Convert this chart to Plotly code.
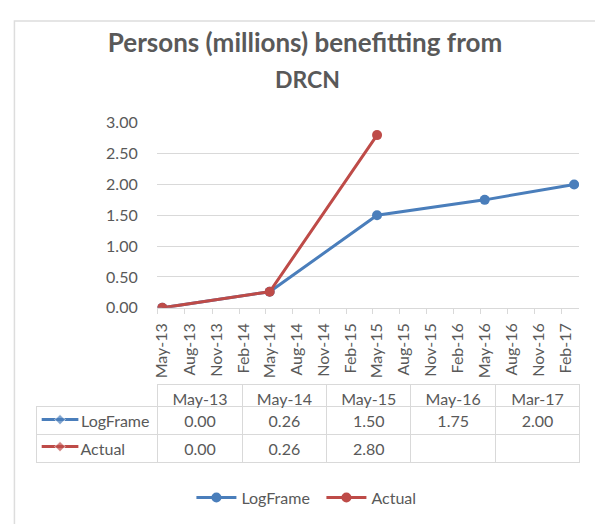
import plotly.graph_objects as go
import pandas as pd

W, H = 595, 524

# ---- data ----
dates = ["2013-05-01", "2014-05-01", "2015-05-01", "2016-05-01", "2017-03-01"]
logframe = [0.00, 0.26, 1.50, 1.75, 2.00]
actual = [0.00, 0.26, 2.80]
series_names = ["LogFrame", "Actual"]
series_colors = ["#4A7EBB", "#BE4B48"]
title_lines = ["Persons (millions) benefitting from", "DRCN"]
x_range = ["2013-04-12", "2017-03-18"]
first_tick = "2013-05-01"
last_tick = "2017-02-01"

FONT = "Lato"
GRAY = "#595959"
GRID = "#D9D9D9"
CLEAR = "rgba(0,0,0,0)"


def px(xp):
    return xp / W


def py(yp):
    return 1 - yp / H


fig = go.Figure()

series_values = [logframe, actual]
for name, vals, col in zip(series_names, series_values, series_colors):
    fig.add_trace(go.Scatter(
        x=dates[:len(vals)], y=vals, name=name, mode="lines+markers",
        line=dict(color=col, width=3),
        marker=dict(color=col, size=10),
        xaxis="x", yaxis="y",
    ))

# minor tick marks half a month before each labelled tick (category boundaries)
tick_dates = pd.date_range(first_tick, last_tick, freq="3MS")
minor_vals = [(d - pd.Timedelta(days=15)).strftime("%Y-%m-%d") for d in tick_dates]

# ---- data table ----
col_labels = [pd.Timestamp(d).strftime("%b-%y") for d in dates]
pad = "\u2003\u2003\u00a0\u00a0\u00a0"
row_heads = [pad + n for n in series_names]
cols = [row_heads]
for i in range(len(dates)):
    col = []
    for vals in series_values:
        col.append(f"{vals[i]:.2f}" if i < len(vals) else "")
    cols.append(col)

fig.add_trace(go.Table(
    domain=dict(x=[px(32), px(580)], y=[py(470), py(389)]),
    columnwidth=[122] + [85] * len(dates),
    header=dict(
        values=[""] + col_labels, height=22,
        fill_color=[CLEAR] + ["white"] * len(dates),
        line=dict(color=[CLEAR] + [GRID] * len(dates), width=1),
        font=dict(family=FONT, size=16, color=GRAY),
        align="center",
    ),
    cells=dict(
        values=cols, height=28,
        fill_color=[CLEAR] + ["white"] * len(dates),
        line=dict(color=GRID, width=1),
        font=dict(family=FONT, size=16, color=GRAY),
        align=["left"] + ["center"] * len(dates),
    ),
))

# legend keys drawn inside the table's row-header cells
for name, col in zip(series_names, series_colors):
    fig.add_trace(go.Scatter(
        x=[5, 23.5, 42], y=[name] * 3, mode="lines+markers",
        line=dict(color=col, width=3),
        marker=dict(color=col, size=[0, 8, 0], symbol="diamond"),
        showlegend=False, hoverinfo="skip",
        xaxis="x2", yaxis="y2",
    ))

fig.update_layout(
    width=W, height=H,
    margin=dict(l=0, r=0, t=0, b=0),
    paper_bgcolor="white", plot_bgcolor="rgba(0,0,0,0)",
    font=dict(family=FONT, color=GRAY),
    title=dict(
        text=title_lines[0], x=px(305), xanchor="center",
        y=py(43), yanchor="middle",
        font=dict(family=FONT, size=26, color=GRAY, weight="bold"),
    ),
    annotations=[dict(
        text=title_lines[1], xref="paper", yref="paper",
        x=px(305), y=py(72), xanchor="center", yanchor="middle",
        showarrow=False,
        font=dict(family=FONT, size=23, color=GRAY, weight="bold"),
    )],
    xaxis=dict(
        domain=[px(153), px(579)], type="date", range=x_range,
        tickmode="linear", tick0=first_tick, dtick="M3", tickformat="%b-%y",
        tickangle=-90, ticks="", showgrid=False,
        showline=True, linecolor=GRID, linewidth=1,
        tickfont=dict(family=FONT, size=16, color=GRAY),
        ticklabelstandoff=8,
        minor=dict(tickmode="array", tickvals=minor_vals, ticks="outside",
                   ticklen=5, tickcolor=GRID, tickwidth=1, showgrid=False),
        anchor="y",
    ),
    yaxis=dict(
        domain=[py(309), py(117)], range=[0, 3], tick0=0, dtick=0.5,
        tickformat=".2f", gridcolor=GRID, gridwidth=1, zeroline=False,
        showline=False, ticks="", ticklabelstandoff=18,
        tickfont=dict(family=FONT, size=16, color=GRAY),
        anchor="x",
    ),
    xaxis2=dict(
        domain=[px(32), px(154)], range=[0, 122], visible=False,
        fixedrange=True, anchor="y2",
    ),
    yaxis2=dict(
        domain=[py(467), py(411)], type="category",
        categoryorder="array", categoryarray=series_names[::-1],
        range=[-0.5, 1.5], visible=False, fixedrange=True, anchor="x2",
    ),
    showlegend=True,
    legend=dict(
        orientation="h", x=px(188), xanchor="left",
        y=py(506), yanchor="middle",
        font=dict(family=FONT, size=16, color=GRAY),
        bgcolor="rgba(0,0,0,0)",
        itemwidth=40,
        entrywidth=75,
    ),
    shapes=[dict(
        type="rect", xref="paper", yref="paper",
        x0=px(9.5), x1=1.05, y0=-0.05, y1=py(11.5),
        line=dict(color="#DDDDDD", width=1.5), layer="below",
    )],
)

fig.write_html("out.html")
